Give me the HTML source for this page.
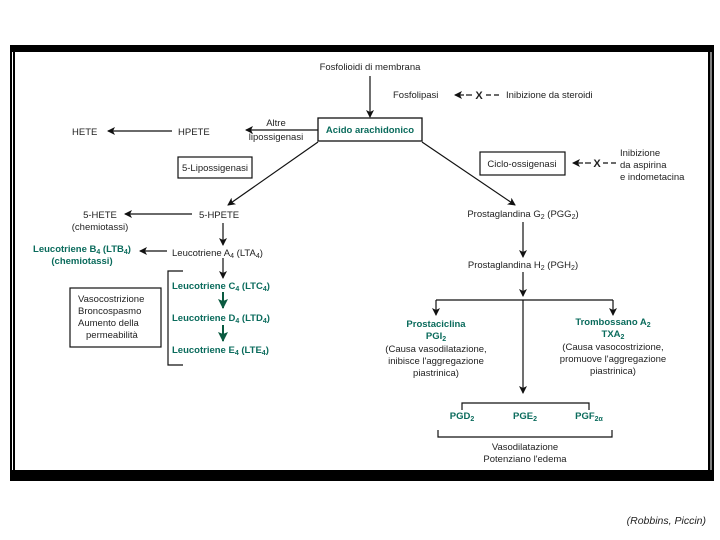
<!DOCTYPE html>
<html><head><meta charset="utf-8"><style>
html,body{margin:0;padding:0;background:#fff;}
svg{display:block;font-family:"Liberation Sans",Arial,sans-serif;}
.t{font-size:9.5px;fill:#222;}
.g{font-size:9.5px;fill:#0a6b5c;font-weight:bold;}
</style></head><body>
<svg width="720" height="540" viewBox="0 0 720 540" xmlns="http://www.w3.org/2000/svg">
<defs>
<marker id="a" markerWidth="8" markerHeight="8" refX="7" refY="4" orient="auto" markerUnits="userSpaceOnUse"><path d="M0,0 L8,4 L0,8 L2,4z" fill="#111"/></marker>
<marker id="ag" markerWidth="10" markerHeight="10" refX="9" refY="5" orient="auto" markerUnits="userSpaceOnUse"><path d="M0,0 L10,5 L0,10 L2,5z" fill="#0a5a40"/></marker>
</defs>
<rect x="10" y="45" width="704" height="436" fill="#000"/>
<rect x="15" y="52" width="693" height="418" fill="#fff"/>
<line x1="12.5" y1="52" x2="12.5" y2="470" stroke="#fff" stroke-width="1"/>
<line x1="711" y1="52" x2="711" y2="470" stroke="#fff" stroke-width="1"/>
<g stroke="#111" stroke-width="1.2" fill="none">
<line x1="370" y1="76" x2="370" y2="117" marker-end="url(#a)"/>
<line x1="318" y1="130" x2="246" y2="130" marker-end="url(#a)"/>
<line x1="172" y1="131" x2="108" y2="131" marker-end="url(#a)"/>
<line x1="318" y1="142" x2="228" y2="205" marker-end="url(#a)"/>
<line x1="192" y1="214" x2="125" y2="214" marker-end="url(#a)"/>
<line x1="223" y1="223" x2="223" y2="245" marker-end="url(#a)"/>
<line x1="167" y1="251" x2="140" y2="251" marker-end="url(#a)"/>
<line x1="223" y1="258" x2="223" y2="278" marker-end="url(#a)"/>
<polyline points="183,271 168,271 168,365 183,365"/>
<line x1="422" y1="142" x2="515" y2="205" marker-end="url(#a)"/>
<line x1="523" y1="222" x2="523" y2="257" marker-end="url(#a)"/>
<line x1="523" y1="272" x2="523" y2="296" marker-end="url(#a)"/>
<line x1="436" y1="300" x2="613" y2="300"/>
<line x1="436" y1="300" x2="436" y2="315" marker-end="url(#a)"/>
<line x1="613" y1="300" x2="613" y2="315" marker-end="url(#a)"/>
<line x1="523" y1="300" x2="523" y2="393" marker-end="url(#a)"/>
<polyline points="462,410 462,403 589,403 589,410"/>
<polyline points="438,430 438,437 612,437 612,430"/>
<line x1="464" y1="95" x2="455" y2="95" marker-end="url(#a)"/>
<line x1="466" y1="95" x2="472" y2="95"/>
<line x1="486" y1="95" x2="500" y2="95" stroke-dasharray="5,3"/>
<line x1="583" y1="163" x2="573" y2="163" marker-end="url(#a)"/>
<line x1="585" y1="163" x2="591" y2="163"/>
<line x1="603" y1="163" x2="616" y2="163" stroke-dasharray="5,3"/>
<rect x="318" y="118" width="104" height="23" stroke-width="1.3"/>
<rect x="178" y="157" width="74" height="21"/>
<rect x="480" y="152" width="85" height="23"/>
<rect x="70" y="288" width="91" height="59"/>
</g>
<g stroke="#0a5a40" stroke-width="2" fill="none">
<line x1="223" y1="292" x2="223" y2="308" marker-end="url(#ag)"/>
<line x1="223" y1="325" x2="223" y2="341" marker-end="url(#ag)"/>
</g>
<text x="479" y="99" class="t" style="font-weight:bold;font-size:11px" text-anchor="middle">X</text>
<text x="597" y="167" class="t" style="font-weight:bold;font-size:11px" text-anchor="middle">X</text>
<text x="370" y="70" class="t" text-anchor="middle">Fosfolioidi di membrana</text>
<text x="393" y="98" class="t">Fosfolipasi</text>
<text x="506" y="98" class="t">Inibizione da steroidi</text>
<text x="370" y="133" class="g" text-anchor="middle">Acido arachidonico</text>
<text x="276" y="126" class="t" text-anchor="middle">Altre</text>
<text x="276" y="140" class="t" text-anchor="middle">lipossigenasi</text>
<text x="178" y="135" class="t">HPETE</text>
<text x="72" y="135" class="t">HETE</text>
<text x="215" y="171" class="t" text-anchor="middle">5-Lipossigenasi</text>
<text x="199" y="218" class="t">5-HPETE</text>
<text x="100" y="218" class="t" text-anchor="middle">5-HETE</text>
<text x="100" y="230" class="t" text-anchor="middle">(chemiotassi)</text>
<text x="172" y="256" class="t">Leucotriene A<tspan font-size="7" dy="2">4</tspan><tspan dy="-2"> (LTA</tspan><tspan font-size="7" dy="2">4</tspan><tspan dy="-2">)</tspan></text>
<text x="82" y="252" class="g" text-anchor="middle">Leucotriene B<tspan font-size="7" dy="2">4</tspan><tspan dy="-2"> (LTB</tspan><tspan font-size="7" dy="2">4</tspan><tspan dy="-2">)</tspan></text>
<text x="82" y="264" class="g" text-anchor="middle">(chemiotassi)</text>
<text x="172" y="289" class="g">Leucotriene C<tspan font-size="7" dy="2">4</tspan><tspan dy="-2"> (LTC</tspan><tspan font-size="7" dy="2">4</tspan><tspan dy="-2">)</tspan></text>
<text x="172" y="321" class="g">Leucotriene D<tspan font-size="7" dy="2">4</tspan><tspan dy="-2"> (LTD</tspan><tspan font-size="7" dy="2">4</tspan><tspan dy="-2">)</tspan></text>
<text x="172" y="353" class="g">Leucotriene E<tspan font-size="7" dy="2">4</tspan><tspan dy="-2"> (LTE</tspan><tspan font-size="7" dy="2">4</tspan><tspan dy="-2">)</tspan></text>
<text x="78" y="302" class="t">Vasocostrizione</text>
<text x="78" y="314" class="t">Broncospasmo</text>
<text x="78" y="326" class="t">Aumento della</text>
<text x="86" y="338" class="t">permeabilità</text>
<text x="522" y="167" class="t" text-anchor="middle">Ciclo-ossigenasi</text>
<text x="620" y="156" class="t">Inibizione</text>
<text x="620" y="168" class="t">da aspirina</text>
<text x="620" y="180" class="t">e indometacina</text>
<text x="523" y="217" class="t" text-anchor="middle">Prostaglandina G<tspan font-size="7" dy="2">2</tspan><tspan dy="-2"> (PGG</tspan><tspan font-size="7" dy="2">2</tspan><tspan dy="-2">)</tspan></text>
<text x="523" y="268" class="t" text-anchor="middle">Prostaglandina H<tspan font-size="7" dy="2">2</tspan><tspan dy="-2"> (PGH</tspan><tspan font-size="7" dy="2">2</tspan><tspan dy="-2">)</tspan></text>
<text x="436" y="327" class="g" text-anchor="middle">Prostaciclina</text>
<text x="436" y="339" class="g" text-anchor="middle">PGI<tspan font-size="7" dy="2">2</tspan></text>
<text x="436" y="352" class="t" text-anchor="middle">(Causa vasodilatazione,</text>
<text x="436" y="364" class="t" text-anchor="middle">inibisce l'aggregazione</text>
<text x="436" y="376" class="t" text-anchor="middle">piastrinica)</text>
<text x="613" y="325" class="g" text-anchor="middle">Trombossano A<tspan font-size="7" dy="2">2</tspan></text>
<text x="613" y="337" class="g" text-anchor="middle">TXA<tspan font-size="7" dy="2">2</tspan></text>
<text x="613" y="350" class="t" text-anchor="middle">(Causa vasocostrizione,</text>
<text x="613" y="362" class="t" text-anchor="middle">promuove l'aggregazione</text>
<text x="613" y="374" class="t" text-anchor="middle">piastrinica)</text>
<text x="462" y="419" class="g" text-anchor="middle">PGD<tspan font-size="7" dy="2">2</tspan></text>
<text x="525" y="419" class="g" text-anchor="middle">PGE<tspan font-size="7" dy="2">2</tspan></text>
<text x="589" y="419" class="g" text-anchor="middle">PGF<tspan font-size="7" dy="2">2α</tspan></text>
<text x="525" y="450" class="t" text-anchor="middle">Vasodilatazione</text>
<text x="525" y="462" class="t" text-anchor="middle">Potenziano l'edema</text>
<text x="706" y="524" class="t" text-anchor="end" style="font-style:italic;font-size:10.5px">(Robbins, Piccin)</text>
</svg>
</body></html>
